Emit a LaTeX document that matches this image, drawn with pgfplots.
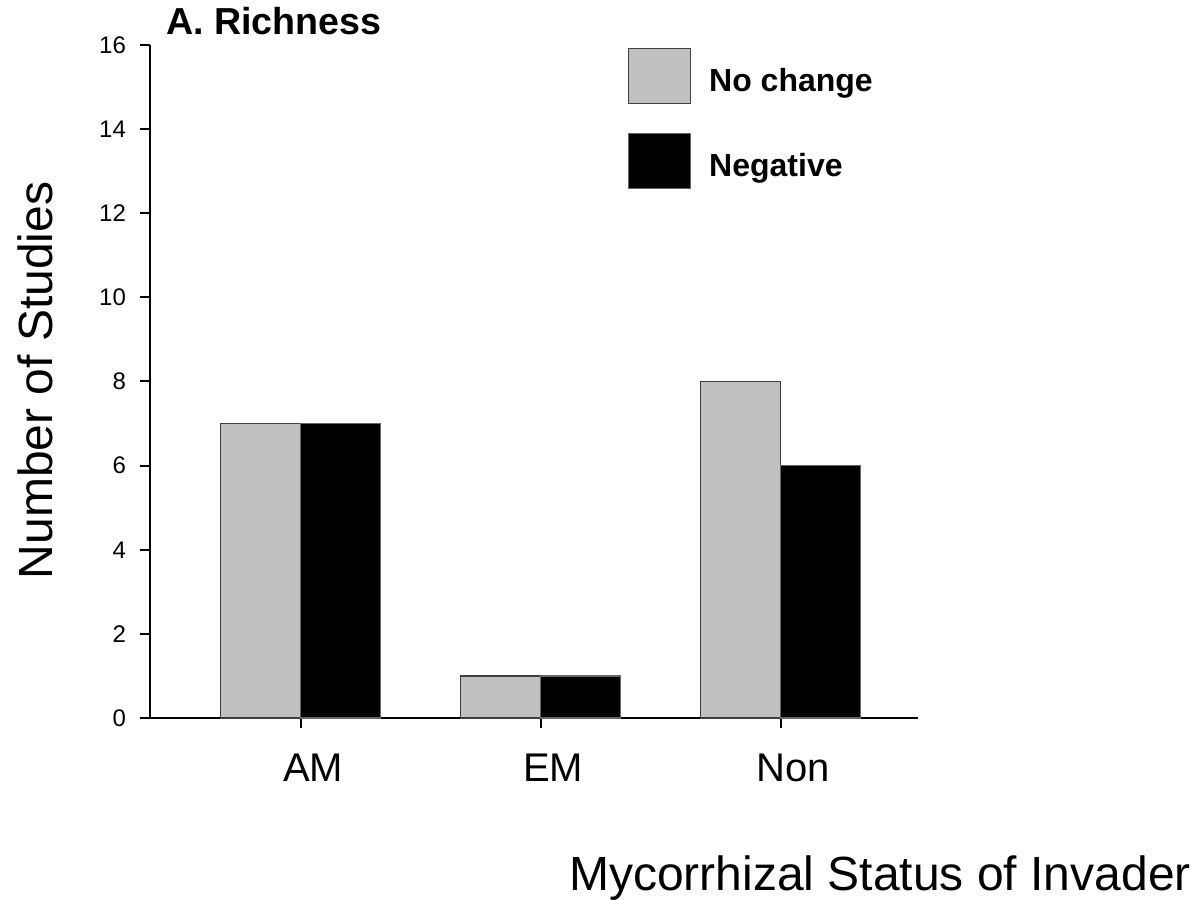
\documentclass[border=0pt]{standalone}
\usepackage{fontspec}
\setmainfont{Liberation Sans}
\usepackage{pgfplots}
\pgfplotsset{compat=1.18}
\definecolor{barg}{RGB}{192,192,192}
\begin{document}
\begin{tikzpicture}
\useasboundingbox (-75pt,-90.5pt) rectangle (524pt,359pt);
\begin{axis}[
  at={(0,0)}, anchor=south west,
  scale only axis, width=384pt, height=336.5pt,
  xmin=-0.628, xmax=2.572, ymin=0, ymax=16,
  axis x line=bottom, axis y line=left,
  axis line style={-, line width=1pt},
  ybar, bar width=40pt,
  xtick={0,1,2}, xticklabels={AM,EM,Non},
  ytick={0,2,...,16},
  tick align=outside, major tick length=5pt,
  tick style={line width=1pt, black},
  /pgf/number format/assume math mode=true,
  yticklabel style={font=\fontsize{12}{14}\selectfont, xshift=-3.5pt},
  xticklabel style={font=\fontsize{20}{24}\selectfont, anchor=base, yshift=-26.5pt, xshift=6.25pt},
  ylabel={Number of Studies},
  ylabel style={at={(axis description cs:-0.1497,0.5015)}, anchor=center, font=\fontsize{24}{28}\selectfont},
  xlabel={Mycorrhizal Status of Invader},
  xlabel style={at={(axis description cs:0.9505,-0.257)}, anchor=base, font=\fontsize{24}{28}\selectfont},
  title={A. Richness},
  title style={at={(axis description cs:0.012,1.0149)}, anchor=base west, yshift=-6pt, font=\bfseries\fontsize{18.8}{22}\selectfont},
  legend image code/.code={\draw[#1,line width=0.6pt] (0pt,-11pt) rectangle (31pt,16.5pt);},
  legend style={at={(axis description cs:0.6224,0.9955)}, anchor=north west, draw=none, fill=none,
    inner sep=0pt, outer sep=0pt, row sep=14.5pt, column sep=9pt,
    font=\bfseries\fontsize{16}{19}\selectfont, nodes={inner sep=0pt}},
  legend cell align=left,
]
\addplot[fill=barg, draw=black!75, line width=0.6pt, bar shift=-20pt] coordinates {(0,7) (1,1) (2,8)};
\addplot[fill=black, draw=black!60, line width=0.6pt, bar shift=20pt] coordinates {(0,7) (1,1) (2,6)};
\legend{No change, Negative}
\end{axis}
\end{tikzpicture}
\end{document}
